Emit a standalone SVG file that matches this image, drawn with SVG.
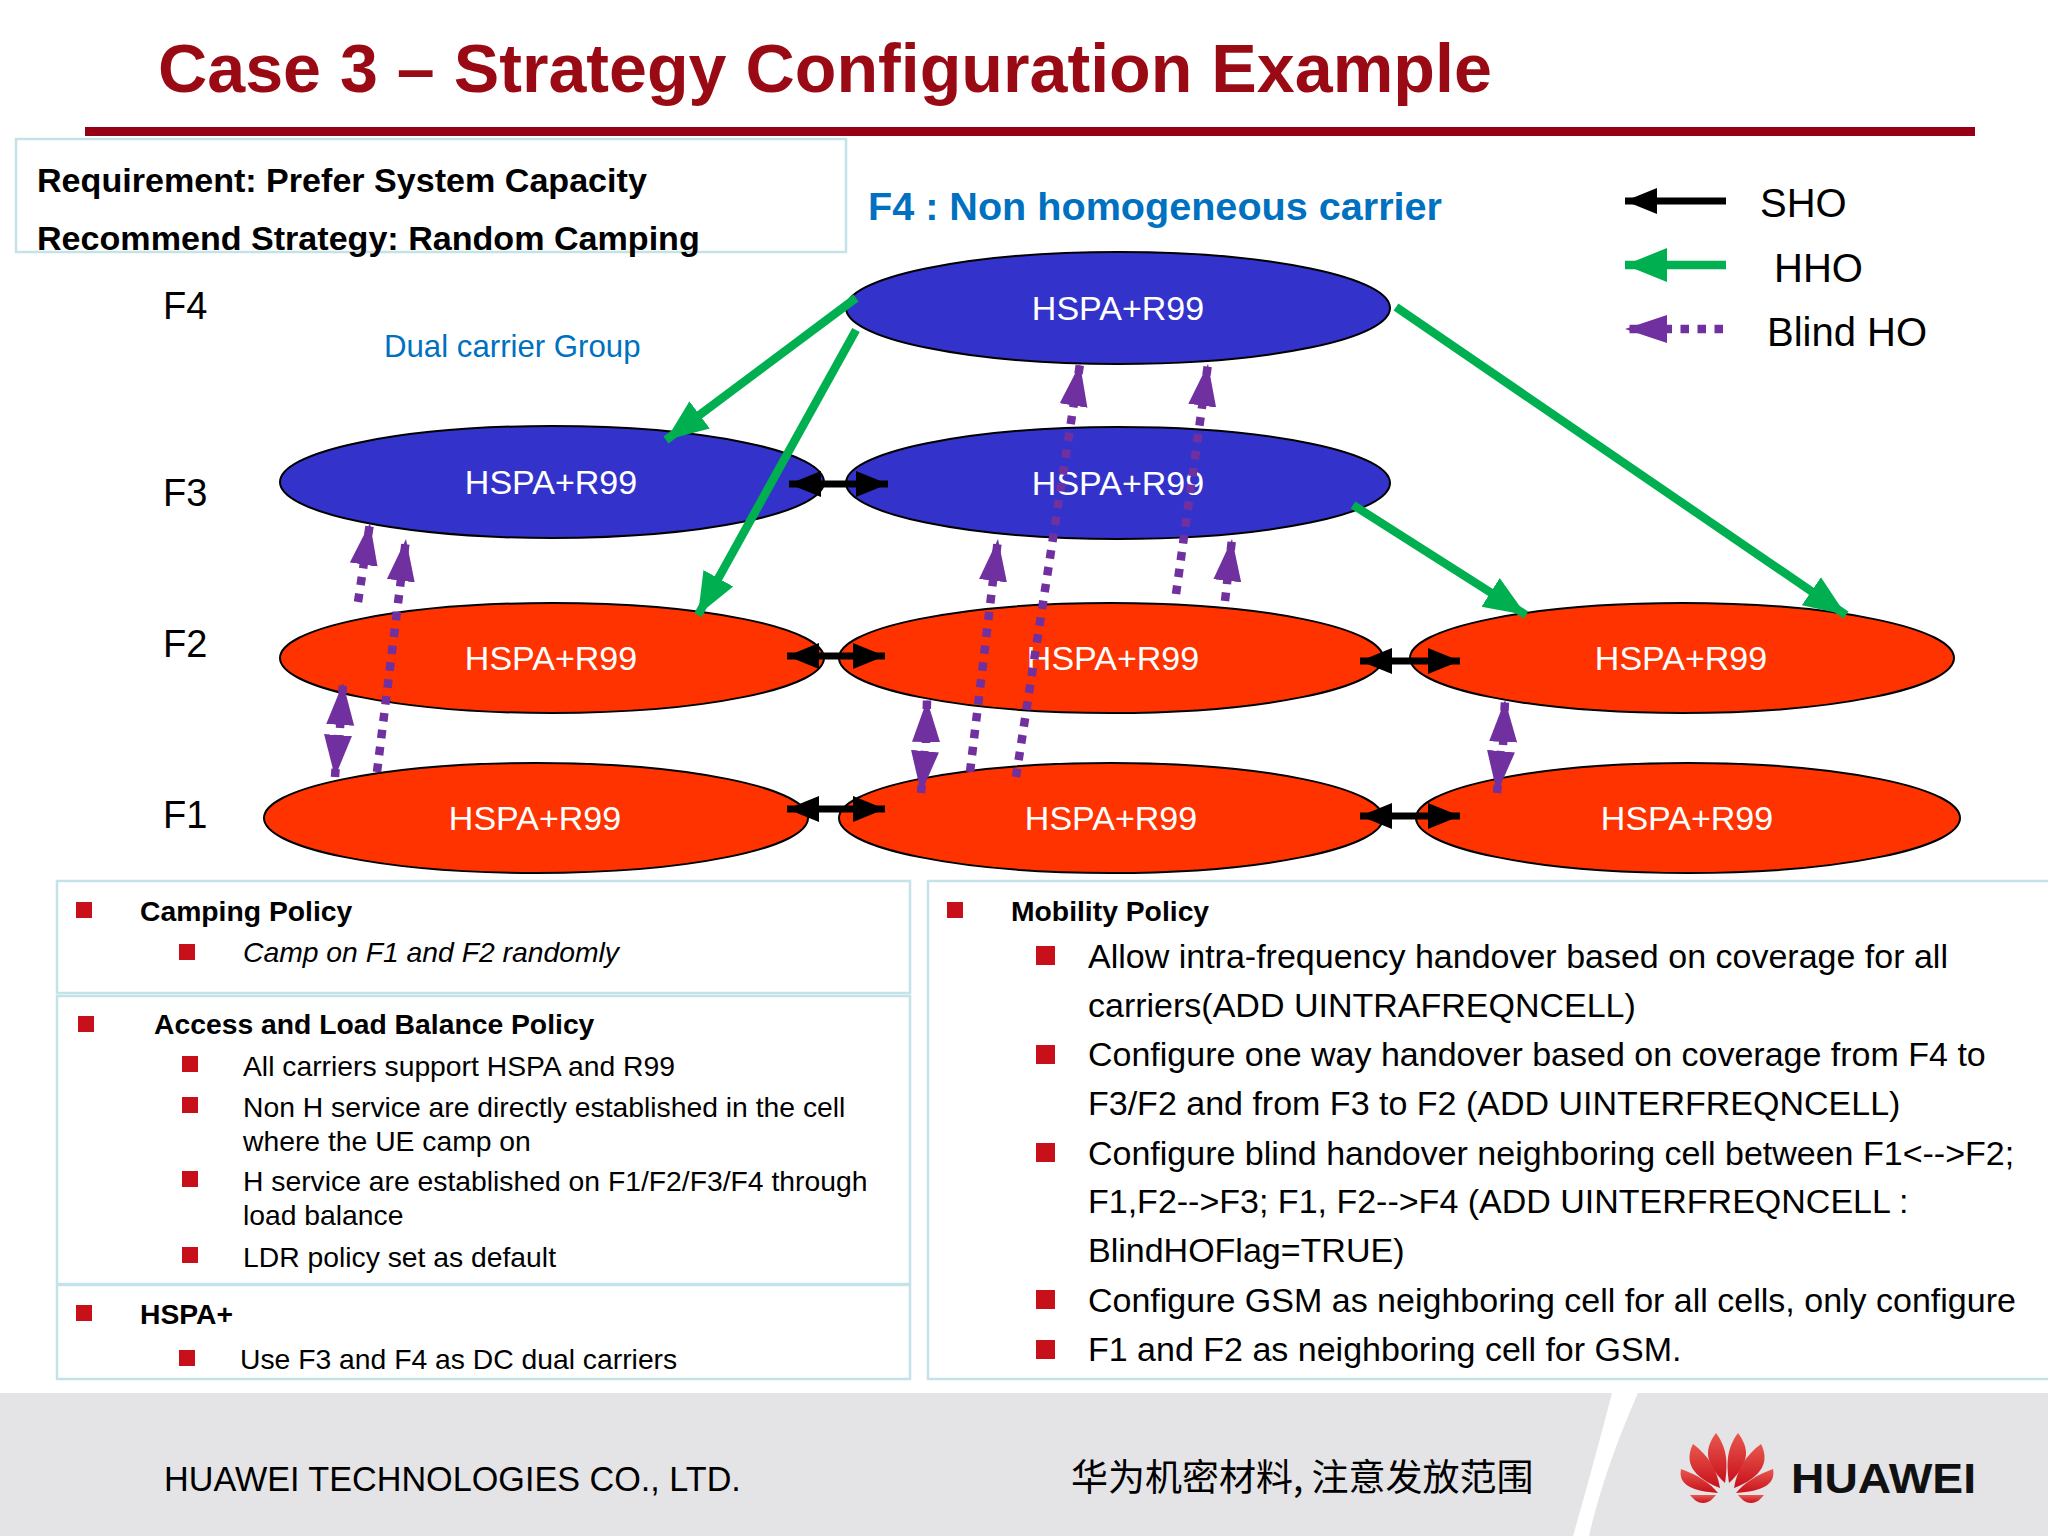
<svg xmlns="http://www.w3.org/2000/svg" width="2048" height="1536" viewBox="0 0 2048 1536">
<style>
text{font-family:"Liberation Sans",Arial,sans-serif;fill:#000}
.box{fill:#fff;stroke:#c3e3e8;stroke-width:2.5}
.blue{fill:#3333cc;stroke:#000;stroke-width:2}
.red{fill:#ff3300;stroke:#000;stroke-width:2}
.cell{fill:#fff;font-size:34px;text-anchor:middle}
.f{font-size:38px}
.leg{font-size:40px}
.h{font-size:28.3px;font-weight:bold}
.s{font-size:28.3px}
.m{font-size:34px}
.b{fill:#c8101a}
.g{stroke:#00b050;stroke-width:8.5;fill:none}
.k{stroke:#000;stroke-width:7;fill:none}
.p{stroke:#7030a0;stroke-width:8.5;stroke-dasharray:8.5 8.5;fill:none}
</style>
<defs>
<marker id="ag" markerUnits="userSpaceOnUse" markerWidth="44" markerHeight="36" refX="42" refY="18" orient="auto-start-reverse"><path d="M0 1L42 18L0 35Z" fill="#00b050"/></marker>
<marker id="ak" markerUnits="userSpaceOnUse" markerWidth="34" markerHeight="28" refX="32" refY="14" orient="auto-start-reverse"><path d="M0 1L32 14L0 27Z" fill="#000"/></marker>
<marker id="ap" markerUnits="userSpaceOnUse" markerWidth="44" markerHeight="30" refX="42" refY="15" orient="auto-start-reverse"><path d="M0 1L42 15L0 29Z" fill="#7030a0"/></marker>
<linearGradient id="pet" x1="0" y1="0" x2="0" y2="1"><stop offset="0" stop-color="#e8584f"/><stop offset="1" stop-color="#c8101a"/></linearGradient>
</defs>
<rect width="2048" height="1536" fill="#fff"/>

<g id="title">
<text x="158" y="92" font-size="68.2" font-weight="bold" style="fill:#9a0a14">Case 3 – Strategy Configuration Example</text>
<rect x="85" y="127" width="1890" height="9" fill="#960014"/>
</g>

<g id="requirement">
<rect class="box" x="16" y="139" width="830" height="113"/>
<text x="37" y="192" font-size="34.1" font-weight="bold">Requirement: Prefer System Capacity</text>
<text x="37" y="250" font-size="34.1" font-weight="bold">Recommend Strategy: Random Camping</text>
</g>

<text x="868" y="220" font-size="39.6" font-weight="bold" style="fill:#0070c0">F4 : Non homogeneous carrier</text>
<text x="384" y="357" font-size="31.2" style="fill:#0070c0">Dual carrier Group</text>

<g id="freq-labels">
<text class="f" x="163" y="319">F4</text>
<text class="f" x="163" y="506">F3</text>
<text class="f" x="163" y="657">F2</text>
<text class="f" x="163" y="828">F1</text>
</g>

<g id="legend">
<path class="k" d="M1726 201H1625" marker-end="url(#ak)"/>
<path class="g" d="M1726 265H1625" marker-end="url(#ag)"/>
<path class="p" d="M1723 329H1625" marker-end="url(#ap)"/>
<text class="leg" x="1760" y="217">SHO</text>
<text class="leg" x="1774" y="282">HHO</text>
<text class="leg" x="1767" y="346">Blind HO</text>
</g>

<g id="f4"><ellipse class="blue" cx="1118" cy="308" rx="272" ry="56"/><text class="cell" x="1118" y="320">HSPA+R99</text></g>
<g id="f3-a"><ellipse class="blue" cx="552" cy="482" rx="272" ry="56"/><text class="cell" x="551" y="494">HSPA+R99</text></g>
<g id="f3-b"><ellipse class="blue" cx="1118" cy="483" rx="272" ry="56"/><text class="cell" x="1118" y="495">HSPA+R99</text></g>
<g id="f2-a"><ellipse class="red" cx="552" cy="658" rx="272" ry="55"/><text class="cell" x="551" y="670">HSPA+R99</text></g>
<g id="f2-b"><ellipse class="red" cx="1111" cy="658" rx="272" ry="55"/><text class="cell" x="1113" y="670">HSPA+R99</text></g>
<g id="f2-c"><ellipse class="red" cx="1682" cy="658" rx="272" ry="55"/><text class="cell" x="1681" y="670">HSPA+R99</text></g>
<g id="f1-a"><ellipse class="red" cx="536" cy="818" rx="272" ry="55"/><text class="cell" x="535" y="830">HSPA+R99</text></g>
<g id="f1-b"><ellipse class="red" cx="1111" cy="818" rx="272" ry="55"/><text class="cell" x="1111" y="830">HSPA+R99</text></g>
<g id="f1-c"><ellipse class="red" cx="1688" cy="818" rx="272" ry="55"/><text class="cell" x="1687" y="830">HSPA+R99</text></g>

<g id="connectors">
<path class="g" d="M856 298L666 440" marker-end="url(#ag)"/>
<path class="g" d="M856 330L698 615" marker-end="url(#ag)"/>
<path class="g" d="M1396 307L1846 615" marker-end="url(#ag)"/>
<path class="g" d="M1353 505L1526 615" marker-end="url(#ag)"/>
<path class="k" d="M789 484H888" marker-start="url(#ak)" marker-end="url(#ak)"/>
<path class="k" d="M787 656H885" marker-start="url(#ak)" marker-end="url(#ak)"/>
<path class="k" d="M787 809H885" marker-start="url(#ak)" marker-end="url(#ak)"/>
<path class="k" d="M1360 661H1460" marker-start="url(#ak)" marker-end="url(#ak)"/>
<path class="k" d="M1360 816H1460" marker-start="url(#ak)" marker-end="url(#ak)"/>
<path class="p" d="M358 602L370 523" marker-end="url(#ap)"/>
<path class="p" d="M377 772L406 539" marker-end="url(#ap)"/>
<path class="p" d="M970 772L998 539" marker-end="url(#ap)"/>
<path class="p" d="M1016 777L1080 364" marker-end="url(#ap)"/>
<path class="p" d="M1176 594L1208 364" marker-end="url(#ap)"/>
<path class="p" d="M1225 601L1232 539" marker-end="url(#ap)"/>
<path class="p" d="M340 728L343 683" marker-end="url(#ap)"/>
<path class="p" d="M338 735L335 777" marker-end="url(#ap)"/>
<path class="p" d="M926 743L927 700" marker-end="url(#ap)"/>
<path class="p" d="M925 751L921 793" marker-end="url(#ap)"/>
<path class="p" d="M1503 745L1505 700" marker-end="url(#ap)"/>
<path class="p" d="M1501 751L1497 793" marker-end="url(#ap)"/>
</g>

<g id="camping">
<rect class="box" x="57" y="881" width="853" height="112"/>
<rect class="b" x="76" y="902" width="16" height="16"/>
<text class="h" x="140" y="921">Camping Policy</text>
<rect class="b" x="179" y="944" width="16" height="16"/>
<text class="s" x="243" y="962" font-style="italic">Camp on F1 and F2 randomly</text>
</g>

<g id="access">
<rect class="box" x="57" y="996" width="853" height="288"/>
<rect class="b" x="78" y="1016" width="16" height="16"/>
<text class="h" x="154" y="1034">Access and Load Balance Policy</text>
<rect class="b" x="182" y="1056" width="16" height="16"/>
<text class="s" x="243" y="1076">All carriers support HSPA and R99</text>
<rect class="b" x="182" y="1097" width="16" height="16"/>
<text class="s" x="243" y="1117">Non H service are directly established in the cell</text>
<text class="s" x="243" y="1151">where the UE camp on</text>
<rect class="b" x="182" y="1171" width="16" height="16"/>
<text class="s" x="243" y="1191">H service are established on F1/F2/F3/F4 through</text>
<text class="s" x="243" y="1225">load balance</text>
<rect class="b" x="182" y="1247" width="16" height="16"/>
<text class="s" x="243" y="1267">LDR policy set as default</text>
</g>

<g id="hspa">
<rect class="box" x="57" y="1285" width="853" height="94"/>
<rect class="b" x="76" y="1305" width="16" height="16"/>
<text class="h" x="140" y="1324">HSPA+</text>
<rect class="b" x="179" y="1350" width="16" height="16"/>
<text class="s" x="240" y="1369">Use F3 and F4 as DC dual carriers</text>
</g>

<g id="mobility">
<rect class="box" x="928" y="881" width="1125" height="498"/>
<rect class="b" x="947" y="902" width="16" height="16"/>
<text class="h" x="1011" y="921">Mobility Policy</text>
<rect class="b" x="1036" y="946" width="19" height="19"/>
<text class="m" x="1088" y="968">Allow intra-frequency handover based on coverage for all</text>
<text class="m" x="1088" y="1017">carriers(ADD UINTRAFREQNCELL)</text>
<rect class="b" x="1036" y="1045" width="19" height="19"/>
<text class="m" x="1088" y="1066">Configure one way handover based on coverage from F4 to</text>
<text class="m" x="1088" y="1115">F3/F2 and from F3 to F2 (ADD UINTERFREQNCELL)</text>
<rect class="b" x="1036" y="1143" width="19" height="19"/>
<text class="m" x="1088" y="1165">Configure blind handover neighboring cell between F1&lt;--&gt;F2;</text>
<text class="m" x="1088" y="1213">F1,F2--&gt;F3; F1, F2--&gt;F4 (ADD UINTERFREQNCELL :</text>
<text class="m" x="1088" y="1262">BlindHOFlag=TRUE)</text>
<rect class="b" x="1036" y="1290" width="19" height="19"/>
<text class="m" x="1088" y="1312">Configure GSM as neighboring cell for all cells, only configure</text>
<rect class="b" x="1036" y="1340" width="19" height="19"/>
<text class="m" x="1088" y="1361">F1 and F2 as neighboring cell for GSM.</text>
</g>

<g id="footer">
<rect x="0" y="1393" width="2048" height="143" fill="#e4e3e5"/>
<path d="M1612 1393H1638Q1604 1470 1589 1536H1573Q1592 1470 1612 1393Z" fill="#fff"/>
<text x="164" y="1491" font-size="34.2">HUAWEI TECHNOLOGIES CO., LTD.</text>
<text x="1071" y="1491" font-size="37" style='font-family:"Noto Sans CJK SC",sans-serif'>华为机密材料, 注意发放范围</text>
</g>

<g id="logo">
<g fill="url(#pet)">
<path d="M1716 1433C1705 1448 1703 1462 1725 1483C1728 1462 1727 1448 1716 1433Z"/>
<path d="M1738 1433C1749 1448 1751 1462 1729 1483C1726 1462 1727 1448 1738 1433Z"/>
<path d="M1693 1444C1684 1462 1692 1477 1720 1488C1717 1470 1709 1456 1693 1444Z"/>
<path d="M1761 1444C1770 1462 1762 1477 1734 1488C1737 1470 1745 1456 1761 1444Z"/>
<path d="M1681 1469C1678 1485 1692 1491 1718 1493C1711 1484 1698 1475 1681 1469Z"/>
<path d="M1773 1469C1776 1485 1762 1491 1736 1493C1743 1484 1756 1475 1773 1469Z"/>
<path d="M1690 1495H1716C1712 1500 1708 1503 1703 1503C1698 1503 1694 1500 1690 1495Z"/>
<path d="M1764 1495H1738C1742 1500 1746 1503 1751 1503C1756 1503 1760 1500 1764 1495Z"/>
</g>
<text x="1791" y="1493" font-size="43" font-weight="bold" textLength="185" lengthAdjust="spacingAndGlyphs" style="fill:#111">HUAWEI</text>
</g>
</svg>
